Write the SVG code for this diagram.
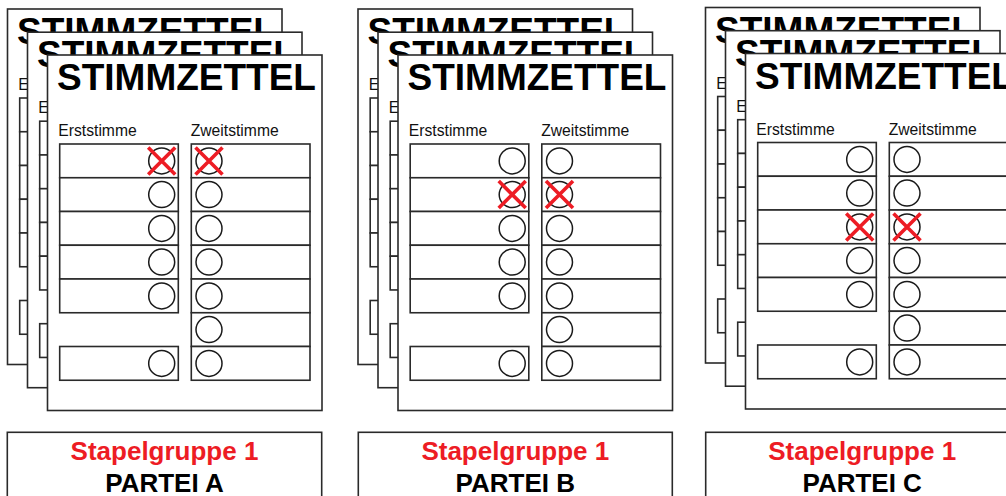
<svg xmlns="http://www.w3.org/2000/svg" xmlns:xlink="http://www.w3.org/1999/xlink" width="1006" height="496" viewBox="0 0 1006 496">
<style>
.ln{fill:#fff;stroke:#2a2a2a;stroke-width:1.6}
.cir{fill:none;stroke:#1a1a1a;stroke-width:1.5}
.title{font-family:"Liberation Sans",Arial,sans-serif;font-weight:bold;font-size:37px;fill:#000}
.col{font-family:"Liberation Sans",Arial,sans-serif;font-size:15.7px;fill:#111}
.x{stroke:#ed1c24;stroke-width:3.6;stroke-linecap:butt;fill:none}
.grp{font-family:"Liberation Sans",Arial,sans-serif;font-weight:bold;font-size:26px;fill:#ed1c24;text-anchor:middle}
.party{font-family:"Liberation Sans",Arial,sans-serif;font-weight:bold;font-size:26px;fill:#000;text-anchor:middle}
</style>
<defs>
<g id="ballot">
<rect class="ln" x="0" y="0" width="274.5" height="355.5"/>
<text class="title" x="9.5" y="35">STIMMZETTEL</text>
<text class="col" x="10.8" y="81">Erststimme</text>
<text class="col" x="143.2" y="81">Zweitstimme</text>
<rect class="ln" x="12.2" y="89" width="118.6" height="33.75"/>
<rect class="ln" x="12.2" y="122.75" width="118.6" height="33.75"/>
<rect class="ln" x="12.2" y="156.5" width="118.6" height="33.75"/>
<rect class="ln" x="12.2" y="190.25" width="118.6" height="33.75"/>
<rect class="ln" x="12.2" y="224" width="118.6" height="33.75"/>
<rect class="ln" x="12.2" y="291.5" width="118.6" height="33.75"/>
<rect class="ln" x="143.8" y="89" width="118.7" height="33.75"/>
<rect class="ln" x="143.8" y="122.75" width="118.7" height="33.75"/>
<rect class="ln" x="143.8" y="156.5" width="118.7" height="33.75"/>
<rect class="ln" x="143.8" y="190.25" width="118.7" height="33.75"/>
<rect class="ln" x="143.8" y="224" width="118.7" height="33.75"/>
<rect class="ln" x="143.8" y="257.75" width="118.7" height="33.75"/>
<rect class="ln" x="143.8" y="291.5" width="118.7" height="33.75"/>
<circle class="cir" cx="114.2" cy="105.9" r="13"/>
<circle class="cir" cx="114.2" cy="139.6" r="13"/>
<circle class="cir" cx="114.2" cy="173.4" r="13"/>
<circle class="cir" cx="114.2" cy="207.1" r="13"/>
<circle class="cir" cx="114.2" cy="240.9" r="13"/>
<circle class="cir" cx="114.2" cy="308.4" r="13"/>
<circle class="cir" cx="161.5" cy="105.9" r="13"/>
<circle class="cir" cx="161.5" cy="139.6" r="13"/>
<circle class="cir" cx="161.5" cy="173.4" r="13"/>
<circle class="cir" cx="161.5" cy="207.1" r="13"/>
<circle class="cir" cx="161.5" cy="240.9" r="13"/>
<circle class="cir" cx="161.5" cy="274.6" r="13"/>
<circle class="cir" cx="161.5" cy="308.4" r="13"/>
</g>
<g id="cross">
<path class="x" d="M-13.5,-13.5 L13.5,13.5 M13.5,-13.5 L-13.5,13.5"/>
</g>
</defs>

<g id="stack-a">
<use xlink:href="#ballot" x="7.5" y="9"/>
<use xlink:href="#ballot" x="27.5" y="32.2"/>
<use xlink:href="#ballot" x="47.5" y="55"/>
<use xlink:href="#cross" x="161.7" y="160.9"/>
<use xlink:href="#cross" x="209" y="160.9"/>
</g>

<g id="stack-b">
<use xlink:href="#ballot" x="358" y="9"/>
<use xlink:href="#ballot" x="378" y="32.2"/>
<use xlink:href="#ballot" x="398" y="55"/>
<use xlink:href="#cross" x="512.2" y="194.6"/>
<use xlink:href="#cross" x="559.5" y="194.6"/>
</g>

<g id="stack-c">
<use xlink:href="#ballot" x="705.5" y="7.5"/>
<use xlink:href="#ballot" x="725.5" y="30.7"/>
<use xlink:href="#ballot" x="745.5" y="53.5"/>
<use xlink:href="#cross" x="859.7" y="226.9"/>
<use xlink:href="#cross" x="907" y="226.9"/>
</g>

<g id="label-a">
<rect class="ln" x="7.3" y="432.3" width="314.4" height="80"/>
<text class="grp" x="164.5" y="459.5">Stapelgruppe 1</text>
<text class="party" x="164.5" y="491.7">PARTEI A</text>
</g>
<g id="label-b">
<rect class="ln" x="358.3" y="432.3" width="314" height="80"/>
<text class="grp" x="515.3" y="459.5">Stapelgruppe 1</text>
<text class="party" x="515.3" y="491.7">PARTEI B</text>
</g>
<g id="label-c">
<rect class="ln" x="705.7" y="432.3" width="314.4" height="80"/>
<text class="grp" x="862.2" y="459.5">Stapelgruppe 1</text>
<text class="party" x="862.2" y="491.7">PARTEI C</text>
</g>
</svg>
